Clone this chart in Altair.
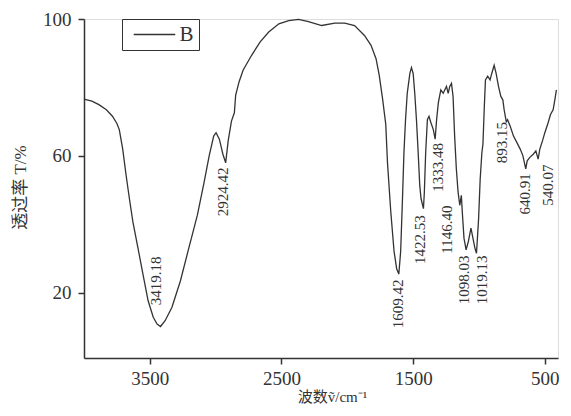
import altair as alt
import pandas as pd

# IR spectrum (wavenumber, transmittance %)
wavenumber = [4000, 3940, 3887, 3830, 3784, 3750, 3732, 3706, 3680, 3655, 3629, 3590, 3552, 3513,
              3474, 3445, 3419, 3384, 3332, 3268, 3204, 3139, 3088, 3049, 3015, 2997, 2972, 2945,
              2924, 2905, 2880, 2858, 2848, 2822, 2791, 2727, 2662, 2597, 2520, 2445, 2370, 2295,
              2195, 2095, 2020, 1945, 1870, 1820, 1782, 1758, 1733, 1708, 1695, 1670, 1645, 1625,
              1609, 1595, 1582, 1570, 1558, 1545, 1525, 1513, 1500, 1488, 1475, 1462, 1450, 1440,
              1422, 1415, 1405, 1392, 1380, 1365, 1347, 1333, 1322, 1309, 1290, 1272, 1247, 1234,
              1222, 1209, 1197, 1185, 1172, 1159, 1146, 1134, 1127, 1114, 1098, 1081, 1061, 1046,
              1031, 1019, 1003, 991, 978, 970, 960, 951, 934, 916, 903, 885, 870, 852, 834, 819,
              809, 793, 783, 763, 738, 712, 687, 667, 645, 634, 614, 588, 568, 551, 538, 518, 500,
              475, 457, 437, 424, 412]
transmittance = [76.6, 76.0, 75.0, 73.5, 71.6, 69.5, 67.7, 62.0, 54.3, 47.5, 40.8, 33.1, 25.4, 17.7,
                 12.9, 10.9, 10.2, 11.9, 15.8, 23.5, 33.1, 42.7, 52.3, 60.1, 65.8, 66.8, 64.9, 60.5,
                 58.0, 64.4, 70.2, 72.6, 77.8, 81.7, 85.1, 89.4, 93.3, 96.2, 98.6, 99.5, 99.9, 99.2,
                 98.1, 98.8, 98.8, 98.1, 95.2, 92.3, 88.4, 83.6, 76.9, 69.2, 58.0, 43.7, 32.1, 27.0,
                 25.5, 32.1, 46.6, 61.0, 70.6, 78.3, 84.1, 85.8, 84.1, 78.3, 70.6, 61.0, 51.4, 47.5,
                 44.6, 49.5, 61.0, 70.6, 71.6, 69.7, 67.7, 64.9, 70.6, 75.5, 79.3, 78.3, 80.3, 78.3,
                 80.3, 81.2, 77.4, 65.8, 56.2, 49.5, 45.6, 48.5, 43.7, 36.0, 32.6, 35.0, 38.9, 36.0,
                 33.1, 31.6, 41.7, 53.3, 61.0, 63.5, 74.0, 82.2, 83.3, 82.2, 84.1, 86.5, 84.1, 80.3,
                 77.4, 76.4, 73.5, 70.0, 70.6, 68.7, 65.8, 63.9, 62.0, 60.1, 56.2, 58.6, 59.6, 60.5,
                 61.5, 59.1, 62.0, 64.4, 66.8, 69.7, 72.1, 73.5, 76.4, 79.3]
series_name = "B"

# Peak annotations (text and anchor in data units)
peak_labels = ["3419.18", "2924.42", "1609.42", "1422.53", "1333.48", "1146.40",
               "1098.03", "1019.13", "893.15", "640.91", "540.07"]
peak_label_x = [3454, 2943, 1615, 1445, 1308, 1241, 1117, 977, 825, 651, 475]
peak_label_y = [23.5, 49.5, 16.8, 35.6, 56.7, 38.5, 23.8, 23.8, 63.9, 48.9, 51.5]

x_ticks = [3500, 2500, 1500, 500]
y_ticks = [100, 60, 20]

FONT = "Liberation Serif, Noto Sans CJK SC"
INK = "#333333"

spec_df = pd.DataFrame({"wn": wavenumber, "T": transmittance, "s": [series_name] * len(wavenumber)})
lab_df = pd.DataFrame({"text": peak_labels, "x": peak_label_x, "y": peak_label_y})

x_scale = alt.Scale(domain=[4000, 400], nice=False, zero=False)
y_scale = alt.Scale(domain=[1, 100], nice=False, zero=False)

x_axis = alt.Axis(values=x_ticks, format="d", title="波数ṽ/cm⁻¹", grid=False,
                  labelFont=FONT, labelFontSize=19, labelColor=INK, labelPadding=5,
                  titleFont=FONT, titleFontSize=15, titleFontWeight="normal", titleColor=INK,
                  titlePadding=1, titleX=248, tickSize=6, tickWidth=1.5, tickColor=INK,
                  domainColor=INK, domainWidth=1.5)
y_axis = alt.Axis(values=y_ticks, format="d", title="透过率 T/%", grid=False,
                  labelFont=FONT, labelFontSize=19, labelColor=INK, labelPadding=7,
                  titleFont=FONT, titleFontSize=17, titleFontWeight="normal", titleColor=INK,
                  titleX=-64, titleY=168, titleAlign="center", titleBaseline="middle",
                  tickSize=6, tickWidth=1.5, tickColor=INK,
                  domainColor=INK, domainWidth=1.5)

line = alt.Chart(spec_df).mark_line(strokeWidth=1.3).encode(
    x=alt.X("wn:Q", scale=x_scale, axis=x_axis),
    y=alt.Y("T:Q", scale=y_scale, axis=y_axis),
    color=alt.Color("s:N", scale=alt.Scale(range=[INK]),
                    legend=alt.Legend(title=None, orient="none", legendX=38, legendY=0,
                                      symbolType="M-3,0H3", symbolSize=192, symbolStrokeWidth=1.3,
                                      symbolStrokeColor=INK, symbolOffset=17,
                                      labelFont=FONT, labelFontSize=21, labelColor=INK,
                                      labelOffset=14.5,
                                      strokeColor=INK, fillColor="white", padding=5)),
)

labels = alt.Chart(lab_df).mark_text(angle=270, align="center", baseline="middle",
                                     font=FONT, fontSize=15, color=INK).encode(
    x=alt.X("x:Q", scale=x_scale),
    y=alt.Y("y:Q", scale=y_scale),
    text="text:N",
)

chart = alt.layer(line, labels).properties(
    width=474, height=339,
    autosize=alt.AutoSizeParams(type="none"),
    padding={"left": 76, "top": 11, "right": 5, "bottom": 48},
).configure_view(stroke=None).configure(background="white")

chart.save("out.html", embed_options={"renderer": "svg", "actions": False})
